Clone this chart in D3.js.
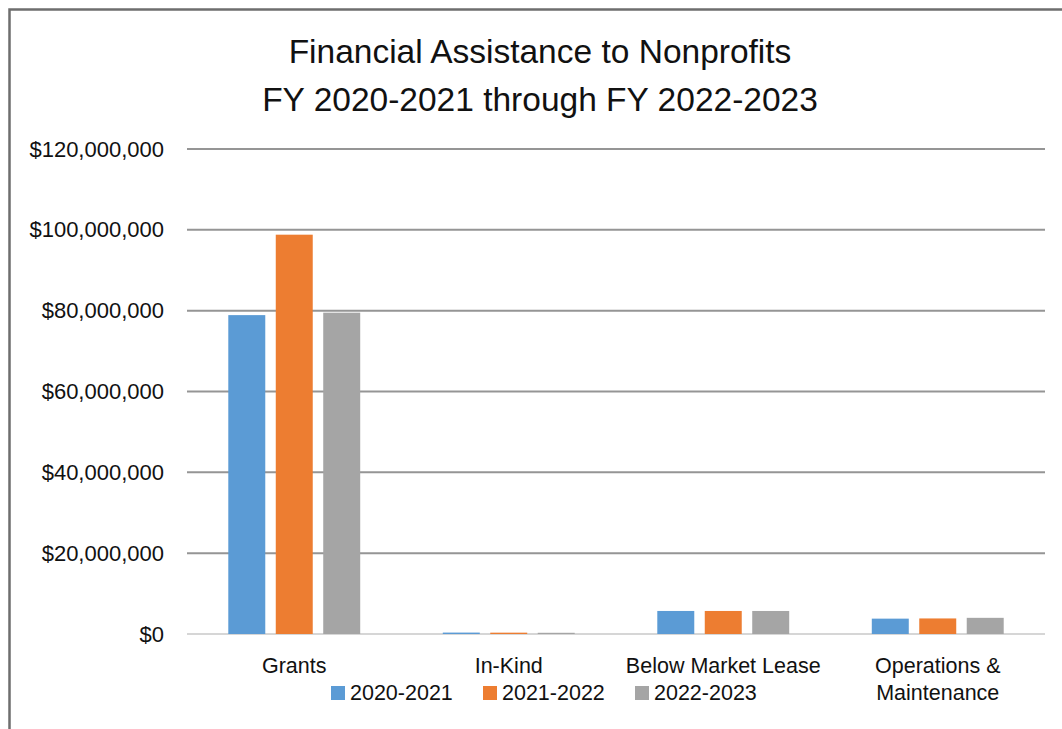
<!DOCTYPE html>
<html>
<head>
<meta charset="utf-8">
<script src="https://cdn.jsdelivr.net/npm/d3@7"></script>
<style>
  body { margin: 0; background: #fff; }
  text { font-family: "Liberation Sans", Arial, sans-serif; fill: #111; }
</style>
</head>
<body>
<div id="viz"></div>
<script>
var categories = ["Grants", "In-Kind", "Below Market Lease", "Operations & Maintenance"];
var categoryLines = [["Grants"], ["In-Kind"], ["Below Market Lease"], ["Operations &", "Maintenance"]];
var seriesNames = ["2020-2021", "2021-2022", "2022-2023"];
var values2020 = [78900000, 350000, 5700000, 3800000];
var values2021 = [98800000, 330000, 5700000, 3850000];
var values2022 = [79500000, 300000, 5700000, 4000000];
var yTicks = [0, 20000000, 40000000, 60000000, 80000000, 100000000, 120000000];
var titleLines = ["Financial Assistance to Nonprofits", "FY 2020-2021 through FY 2022-2023"];

var colours = ["#5B9BD5", "#ED7D31", "#A5A5A5"];
var seriesValues = [values2020, values2021, values2022];

var w = 1062, h = 729;

var svg = d3.select("#viz")
	.append("svg")
	.attr("width", w)
	.attr("height", h);

// frame, only left and top edges show
svg.append("path")
	.attr("d", "M9.5," + h + "V9.5H" + w)
	.style("fill", "none")
	.style("stroke", "#6e6e6e")
	.style("stroke-width", 2.5);

var y = d3.scaleLinear()
	.domain([0, 120000000])
	.range([634, 149]);

var x0 = d3.scaleBand()
	.domain(categories)
	.range([187, 1045])
	.paddingInner(0.385)
	.paddingOuter(0.1925);

var x1 = d3.scaleBand()
	.domain(seriesNames)
	.range([0, x0.bandwidth()])
	.paddingInner(0.221);

// gridlines
svg.append("g").selectAll("line")
	.data(yTicks)
	.enter().append("line")
		.attr("x1", 187)
		.attr("x2", 1045)
		.attr("y1", function(d){ return y(d); })
		.attr("y2", function(d){ return y(d); })
		.style("stroke", function(d){ return d === 0 ? "#d6d6d6" : "#959595"; })
		.style("stroke-width", 2);

// y tick labels
var yAxis = d3.axisLeft(y)
	.tickValues(yTicks)
	.tickSize(0)
	.tickPadding(0)
	.tickFormat(function(d){ return "$" + d3.format(",")(d); });

var yg = svg.append("g")
	.attr("transform", "translate(164,0)")
	.call(yAxis);
yg.select(".domain").remove();
yg.selectAll("text")
	.style("font-size", "22px")
	.style("font-family", "'Liberation Sans', Arial, sans-serif")
	.attr("fill", "#111");

// bars
var groups = svg.append("g").selectAll("g")
	.data(categories)
	.enter().append("g")
		.attr("transform", function(d){ return "translate(" + x0(d) + ",0)"; });

groups.selectAll("rect")
	.data(function(d, i){
		return seriesNames.map(function(s, j){ return { s: s, v: seriesValues[j][i], c: colours[j] }; });
	})
	.enter().append("rect")
		.attr("x", function(d){ return x1(d.s); })
		.attr("width", x1.bandwidth())
		.attr("y", function(d){ return y(d.v); })
		.attr("height", function(d){ return y(0) - y(d.v); })
		.style("fill", function(d){ return d.c; });

// category labels
svg.append("g").selectAll("text")
	.data(categories)
	.enter().append("text")
		.attr("x", function(d){ return x0(d) + x0.bandwidth() / 2; })
		.attr("y", 673)
		.attr("text-anchor", "middle")
		.style("font-size", "21.5px")
		.each(function(d, i){
			var t = d3.select(this);
			categoryLines[i].forEach(function(line, k){
				t.append("tspan")
					.attr("x", x0(d) + x0.bandwidth() / 2)
					.attr("dy", k === 0 ? 0 : 27)
					.text(line);
			});
		});

// legend
var legend = svg.append("g").selectAll("g")
	.data(seriesNames)
	.enter().append("g")
		.attr("transform", function(d, i){ return "translate(" + (331 + i * 152) + ",686)"; });

legend.append("rect")
	.attr("width", 14)
	.attr("height", 14)
	.style("fill", function(d, i){ return colours[i]; });

legend.append("text")
	.attr("x", 19)
	.attr("y", 14)
	.style("font-size", "21.5px")
	.text(function(d){ return d; });

// title
svg.append("g").selectAll("text")
	.data(titleLines)
	.enter().append("text")
		.attr("x", 540)
		.attr("y", function(d, i){ return 63 + i * 48; })
		.attr("text-anchor", "middle")
		.style("font-size", "33.5px")
		.text(function(d){ return d; });
</script>
</body>
</html>
